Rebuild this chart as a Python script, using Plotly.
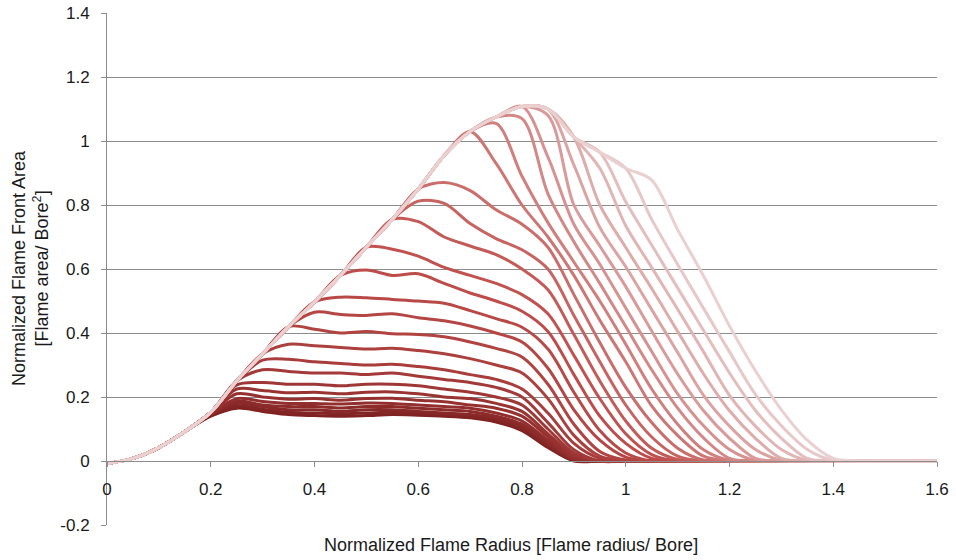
import plotly.graph_objects as go

# Shared radius grid (normalized flame radius)
RADIUS = [0.00, 0.05, 0.10, 0.15, 0.20, 0.25, 0.30, 0.35, 0.40, 0.45, 0.50,
          0.55, 0.60, 0.65, 0.70, 0.75, 0.80, 0.85, 0.90, 0.95, 1.00, 1.05,
          1.10, 1.15, 1.20, 1.25, 1.30, 1.35, 1.40, 1.45, 1.50, 1.55, 1.60]

# Outer envelope (lightest series), normalized flame front area
ENVELOPE = [-0.008, 0.008, 0.042, 0.092, 0.152, 0.250, 0.335, 0.420, 0.497, 0.580, 0.668,
            0.755, 0.850, 0.955, 1.030, 1.075, 1.108, 1.100, 1.012, 0.965, 0.915, 0.878,
            0.723, 0.578, 0.422, 0.282, 0.160, 0.065, 0.008, 0.0, 0.0, 0.0, 0.0]

# Each series follows the envelope for its first SHARED points, then its own values, then 0
D5 = [0.140, 0.165, 0.155, 0.145, 0.142, 0.140, 0.142, 0.145, 0.143, 0.140, 0.135, 0.122, 0.095, 0.042, 0.0]
D4 = [0.142, 0.172, 0.162, 0.152, 0.150, 0.148, 0.150, 0.152, 0.150, 0.145, 0.140, 0.128, 0.100, 0.046, 0.002]
D3 = [0.144, 0.180, 0.170, 0.160, 0.160, 0.155, 0.160, 0.160, 0.155, 0.150, 0.145, 0.133, 0.108, 0.052, 0.003]
D2 = [0.146, 0.187, 0.175, 0.170, 0.170, 0.166, 0.170, 0.170, 0.165, 0.160, 0.155, 0.140, 0.115, 0.058, 0.005]
D1 = [0.148, 0.195, 0.186, 0.180, 0.180, 0.178, 0.181, 0.180, 0.175, 0.170, 0.165, 0.150, 0.125, 0.065, 0.008]
L7 = [0.150, 0.210, 0.200, 0.193, 0.195, 0.190, 0.195, 0.196, 0.190, 0.185, 0.175, 0.165, 0.140, 0.075, 0.012]
L6 = [0.225, 0.220, 0.213, 0.215, 0.210, 0.215, 0.216, 0.210, 0.200, 0.195, 0.180, 0.155, 0.085, 0.018]
L5 = [0.238, 0.245, 0.240, 0.240, 0.235, 0.240, 0.240, 0.235, 0.225, 0.215, 0.200, 0.175, 0.100, 0.025]
L4 = [0.285, 0.280, 0.275, 0.275, 0.270, 0.275, 0.265, 0.255, 0.245, 0.230, 0.200, 0.120, 0.035]
L3 = [0.315, 0.318, 0.310, 0.305, 0.300, 0.302, 0.295, 0.285, 0.270, 0.255, 0.225, 0.150, 0.055, 0.008]
L2 = [0.365, 0.360, 0.355, 0.350, 0.352, 0.345, 0.335, 0.320, 0.300, 0.275, 0.195, 0.080, 0.015]
L1 = [0.412, 0.400, 0.405, 0.398, 0.395, 0.388, 0.372, 0.352, 0.325, 0.240, 0.115, 0.030, 0.003]
M7 = [0.465, 0.458, 0.455, 0.460, 0.448, 0.438, 0.422, 0.400, 0.372, 0.290, 0.160, 0.065, 0.012]
M6 = [0.512, 0.510, 0.505, 0.500, 0.493, 0.470, 0.445, 0.418, 0.350, 0.215, 0.095, 0.025]
M5 = [0.597, 0.580, 0.585, 0.555, 0.525, 0.500, 0.468, 0.405, 0.270, 0.140, 0.055, 0.008]
M4 = [0.662, 0.640, 0.605, 0.580, 0.555, 0.520, 0.460, 0.330, 0.195, 0.085, 0.020]
M3 = [0.748, 0.700, 0.672, 0.645, 0.600, 0.535, 0.395, 0.250, 0.125, 0.040, 0.005]
M2 = [0.812, 0.805, 0.742, 0.695, 0.660, 0.600, 0.455, 0.310, 0.175, 0.075, 0.015]
M1 = [0.870, 0.845, 0.785, 0.740, 0.668, 0.520, 0.370, 0.230, 0.120, 0.040, 0.003]
H1 = [0.930, 0.800, 0.700, 0.580, 0.440, 0.310, 0.172, 0.080, 0.015]
H2 = [1.055, 0.890, 0.745, 0.622, 0.500, 0.365, 0.225, 0.115, 0.035, 0.002]
H3 = [1.070, 0.835, 0.685, 0.555, 0.420, 0.285, 0.165, 0.072, 0.008]
H4 = [0.950, 0.740, 0.615, 0.478, 0.342, 0.210, 0.110, 0.036, 0.002]
H5 = [1.080, 0.800, 0.672, 0.545, 0.406, 0.272, 0.157, 0.071, 0.008]
H6 = [0.925, 0.730, 0.607, 0.473, 0.339, 0.205, 0.109, 0.036, 0.002]
H7 = [0.800, 0.667, 0.539, 0.405, 0.272, 0.157, 0.071, 0.008]
H8 = [0.915, 0.735, 0.605, 0.474, 0.341, 0.205, 0.109, 0.036, 0.002]
H9 = [0.810, 0.675, 0.541, 0.408, 0.275, 0.158, 0.071, 0.008]
H10 = [0.755, 0.614, 0.477, 0.341, 0.208, 0.110, 0.036, 0.002]

# darkest -> lightest (drawing order)
SERIES_TAILS = [D5, D4, D3, D2, D1, L7, L6, L5, L4, L3, L2, L1, M7, M6, M5, M4, M3,
                M2, M1, H1, H2, H3, H4, H5, H6, H7, H8, H9, H10, []]
SERIES_SHARED = [4, 4, 4, 4, 4, 4, 5, 5, 6, 6, 7, 8, 8, 9, 10, 11, 12,
                 12, 13, 15, 15, 16, 17, 17, 18, 19, 19, 20, 21, 33]

X_TICKS = [0, 0.2, 0.4, 0.6, 0.8, 1.0, 1.2, 1.4, 1.6]
X_TICK_LABELS = ["0", "0.2", "0.4", "0.6", "0.8", "1", "1.2", "1.4", "1.6"]
Y_TICKS = [-0.2, 0, 0.2, 0.4, 0.6, 0.8, 1.0, 1.2, 1.4]
Y_TICK_LABELS = ["-0.2", "0", "0.2", "0.4", "0.6", "0.8", "1", "1.2", "1.4"]


def shade(t):
    stops = [(0.0, (128, 34, 34)), (0.5, (192, 78, 75)), (1.0, (234, 208, 208))]
    for (t0, c0), (t1, c1) in zip(stops[:-1], stops[1:]):
        if t <= t1:
            f = (t - t0) / (t1 - t0)
            return "rgb(%d,%d,%d)" % tuple(round(a + (b - a) * f) for a, b in zip(c0, c1))
    return "rgb(%d,%d,%d)" % stops[-1][1]


fig = go.Figure()
n = len(SERIES_TAILS)
for i, (tail, shared) in enumerate(zip(SERIES_TAILS, SERIES_SHARED)):
    y = ENVELOPE[:shared] + tail
    y = y + [0.0] * (len(RADIUS) - len(y))
    fig.add_trace(go.Scatter(
        x=RADIUS, y=y, mode="lines",
        line=dict(color=shade(i / (n - 1)), width=3, shape="spline", smoothing=0.9),
        showlegend=False, hoverinfo="skip"))

GRID = "#8c8c8c"
FONT = "Liberation Sans, Arial, sans-serif"

fig.update_layout(
    width=956, height=560,
    margin=dict(l=107, r=19, t=13, b=35, autoexpand=False),
    paper_bgcolor="white", plot_bgcolor="white",
    font=dict(family=FONT, size=17, color="#1a1a1a"),
    xaxis=dict(range=[0, 1.6], tickvals=X_TICKS, ticktext=X_TICK_LABELS,
               anchor="free", position=0.125, showline=True, linecolor=GRID, linewidth=1,
               ticks="outside", ticklen=5, tickcolor=GRID, showgrid=False, zeroline=False,
               ticklabelstandoff=8, automargin=False),
    yaxis=dict(range=[-0.2, 1.4], tickvals=Y_TICKS, ticktext=Y_TICK_LABELS,
               showline=True, linecolor=GRID, linewidth=1, ticks="outside", ticklen=5,
               tickcolor=GRID, showgrid=True, gridcolor=GRID, gridwidth=1, zeroline=False,
               ticklabelstandoff=8, automargin=False),
    annotations=[
        dict(text="Normalized Flame Radius [Flame radius/ Bore]", xref="paper", yref="paper",
             x=0.4867, y=-0.039, xanchor="center", yanchor="middle", showarrow=False,
             font=dict(size=18)),
        dict(text="Normalized Flame Front Area<br>[Flame area/ Bore<sup>2</sup>]",
             xref="paper", yref="paper", x=-0.0916, y=0.502, xanchor="center",
             yanchor="middle", textangle=-90, showarrow=False, align="center",
             font=dict(size=18)),
    ],
)

fig.write_html("out.html", config={"displayModeBar": False},
               post_script="document.body.style.margin='0';document.body.style.overflow='hidden';")
